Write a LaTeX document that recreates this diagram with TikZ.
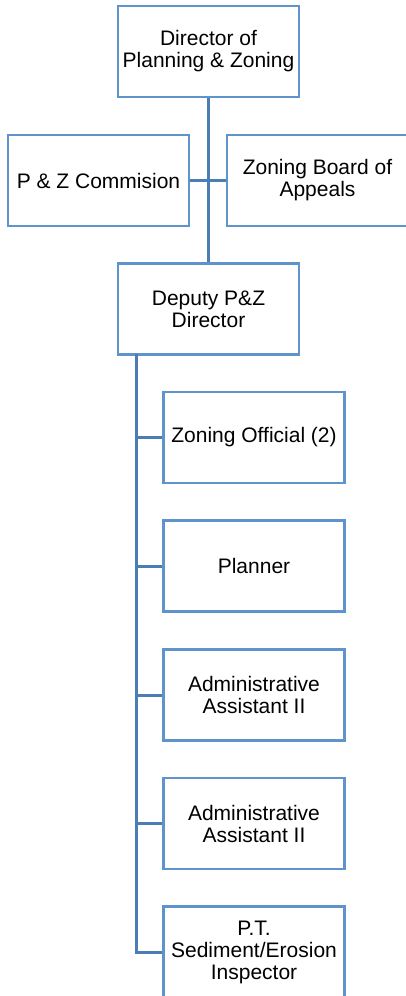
\documentclass[tikz,border=0pt]{standalone}
\usepackage{fontspec}
\setmainfont{Liberation Sans}
\definecolor{boxblue}{HTML}{5F93CC}
\definecolor{lineblue}{HTML}{4A7DB4}
\begin{document}
\begin{tikzpicture}[x=1pt,y=-1pt,
  orgbox/.style={draw=boxblue, line width=2.2pt, fill=white, minimum width=181pt, minimum height=91pt,
    inner sep=0pt, align=center, font=\fontsize{21}{22}\selectfont},
  link/.style={draw=lineblue, line width=3pt}]
\useasboundingbox (0,0) rectangle (406,996);
\clip (0,0) rectangle (406,996);
\node[orgbox] (dir) at (208.5,51.5) {Director of\\Planning \& Zoning};
\node[orgbox] (pz) at (98.5,180.5) {P \& Z Commision};
\node[orgbox] (zba) at (317.5,180.5) {Zoning Board of\\Appeals};
\node[orgbox] (dep) at (208.5,309) {Deputy P\&Z\\Director};
\node[orgbox] (z1) at (254,437.5) {Zoning Official (2)};
\node[orgbox] (z2) at (254,566) {Planner};
\node[orgbox] (z3) at (254,695) {Administrative\\Assistant II};
\node[orgbox] (z4) at (254,823.5) {Administrative\\Assistant II};
\node[orgbox] (z5) at (254,952) {P.T.\\Sediment/Erosion\\Inspector};
\coordinate (spine) at (136.5,354);
\draw[link] (dir.south) -- (dep.north);
\draw[link] (pz.east) -- (zba.west);
\draw[link] (spine) |- (z5.west);
\foreach \n in {z1,z2,z3,z4} {\draw[link] (spine |- \n.west) -- (\n.west);}
\end{tikzpicture}
\end{document}
